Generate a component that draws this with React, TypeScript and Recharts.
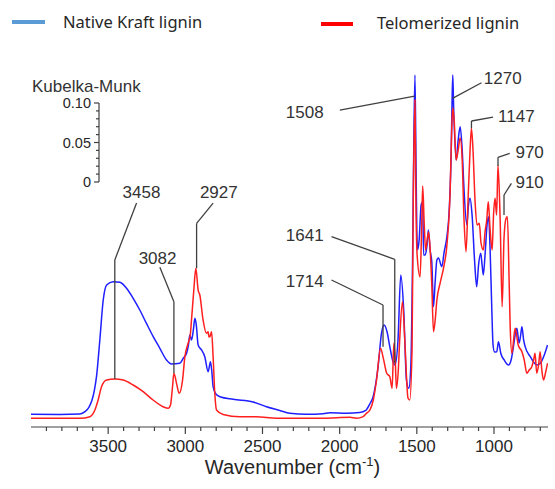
import React from 'react';
import { LineChart, Line, XAxis, YAxis, ReferenceLine, ReferenceDot, Legend } from 'recharts';

// ---------- data (Kubelka-Munk units vs wavenumber, cm-1) ----------
const seriesNames = ['Native Kraft lignin', 'Telomerized lignin'];

const nativeWavenumbers = [
  4000, 3813, 3683, 3650, 3625, 3605, 3590, 3575, 3554, 3532, 3510, 3468, 3424, 3381, 3338, 3295, 3251, 3208, 3165, 3122, 3089,
  3036, 3014, 2992, 2980, 2971, 2960, 2948, 2938, 2929, 2917, 2895, 2874, 2852, 2837, 2828, 2820, 2802, 2776, 2690, 2561,
  2474, 2388, 2323, 2215, 2107, 2064, 1956, 1870, 1831, 1805, 1783, 1751, 1729, 1712, 1693, 1675, 1654, 1641, 1622, 1604,
  1585, 1567, 1552, 1539, 1528, 1520, 1512, 1505, 1500, 1495, 1485, 1472, 1462, 1456, 1446, 1435, 1425, 1414, 1403, 1392,
  1381, 1370, 1360, 1338, 1323, 1305, 1290, 1277, 1272, 1267, 1262, 1245, 1232, 1219, 1206, 1194, 1176, 1165, 1155, 1142,
  1126, 1112, 1100, 1086, 1077, 1069, 1058, 1045, 1035, 1025, 1014, 1006, 996, 982, 971, 956, 934, 906, 889, 874,
  863, 852, 837, 827, 819, 808, 798, 765, 722, 700, 674, 653,
];
const nativeKM = [
  0.0161, 0.0159, 0.0165, 0.0195, 0.025, 0.034, 0.046, 0.0650, 0.1106, 0.1614, 0.1805, 0.1847, 0.1839, 0.1763, 0.1636, 0.1487, 0.1313, 0.1148, 0.1, 0.0852, 0.0801,
  0.081, 0.0873, 0.0937, 0.1042, 0.1169, 0.1106, 0.1233, 0.1382, 0.1297, 0.1042, 0.0979, 0.0894, 0.0703, 0.083, 0.0699, 0.0512, 0.0419, 0.0385, 0.0352, 0.0318,
  0.0258, 0.021, 0.0174, 0.0161, 0.0169, 0.0182, 0.0174, 0.0184, 0.021, 0.0292, 0.0385, 0.0766, 0.1191, 0.1297, 0.1211, 0.1021, 0.083, 0.0788, 0.1106, 0.1932,
  0.1487, 0.0597, 0.0492, 0.0766, 0.2038, 0.3521, 0.4474, 0.33, 0.25, 0.2251, 0.2377, 0.2822, 0.286, 0.2186, 0.2186, 0.2292, 0.2504, 0.225, 0.2097, 0.1529,
  0.185, 0.2123, 0.2148, 0.2038, 0.2224, 0.2419, 0.2758, 0.3521, 0.41, 0.4474, 0.41, 0.3394, 0.3648, 0.3817, 0.3521, 0.3013, 0.2568, 0.2822, 0.2907, 0.2695,
  0.2123, 0.1783, 0.2059, 0.2208, 0.2059, 0.1932, 0.2186, 0.2568, 0.2673, 0.225, 0.1487, 0.1042, 0.0953, 0.0957, 0.1084, 0.0937, 0.0852, 0.0788, 0.0852, 0.1021,
  0.1169, 0.1255, 0.1068, 0.1169, 0.1275, 0.1106, 0.1021, 0.0894, 0.0788, 0.081, 0.0915, 0.1042,
];

const telomerizedWavenumbers = [
  4000, 3683, 3618, 3586, 3565, 3543, 3510, 3457, 3403, 3338, 3273, 3209, 3144, 3111, 3096, 3083, 3074, 3057, 3040, 3018,
  3003, 2982, 2968, 2960, 2945, 2932, 2917, 2906, 2885, 2863, 2852, 2847, 2841, 2830, 2820, 2809, 2798, 2755, 2647, 2539,
  2409, 2107, 1934, 1891, 1848, 1826, 1804, 1782, 1761, 1735, 1717, 1695, 1675, 1660, 1649, 1640, 1632, 1620, 1611, 1593,
  1578, 1557, 1546, 1531, 1523, 1512, 1506, 1498, 1479, 1469, 1462, 1453, 1443, 1433, 1424, 1414, 1403, 1392, 1381, 1370,
  1349, 1327, 1305, 1284, 1274, 1267, 1258, 1245, 1232, 1219, 1206, 1194, 1181, 1168, 1155, 1146, 1136, 1123, 1110, 1095,
  1084, 1069, 1058, 1047, 1037, 1025, 1012, 1003, 993, 983, 974, 960, 947, 935, 922, 913, 902, 895, 884, 863,
  843, 819, 804, 787, 772, 755, 743, 734, 723, 711, 701, 690, 679, 665, 653,
];
const telomerizedKM = [
  0.0111, 0.0111, 0.0131, 0.0216, 0.0343, 0.0512, 0.0597, 0.061, 0.0597, 0.0534, 0.0449, 0.0343, 0.0258, 0.0238, 0.028, 0.0512, 0.0683, 0.0555, 0.0428, 0.0597,
  0.0894, 0.1064, 0.1169, 0.136, 0.1741, 0.2017, 0.1741, 0.1678, 0.136, 0.1191, 0.1211, 0.1144, 0.1148, 0.1211, 0.0894, 0.0428, 0.0216, 0.0159, 0.0131, 0.0131,
  0.0111, 0.0111, 0.0123, 0.0111, 0.0131, 0.0174, 0.0216, 0.0343, 0.0597, 0.1, 0.0873, 0.0683, 0.0639, 0.0492, 0.1064, 0.0852, 0.0492, 0.0724, 0.1106, 0.1593,
  0.1106, 0.0365, 0.0343, 0.0979, 0.2885, 0.4157, 0.2885, 0.2186, 0.1907, 0.2504, 0.3063, 0.2631, 0.225, 0.2377, 0.2479, 0.2275, 0.1805, 0.1211, 0.136, 0.1614,
  0.183, 0.2021, 0.2313, 0.3013, 0.3775, 0.4055, 0.3902, 0.3394, 0.3521, 0.3673, 0.3394, 0.2631, 0.2228, 0.2885, 0.3521, 0.3797, 0.3521, 0.2885, 0.2568, 0.2589,
  0.2339, 0.225, 0.2479, 0.2631, 0.2864, 0.2504, 0.225, 0.2695, 0.2907, 0.2695, 0.333, 0.2631, 0.1529, 0.24, 0.265, 0.2673, 0.1869, 0.1275, 0.0937, 0.1255,
  0.1042, 0.0957, 0.0852, 0.0683, 0.0724, 0.0767, 0.0852, 0.0937, 0.0683, 0.0788, 0.0957, 0.0724, 0.0597, 0.0699, 0.081,
];

const xTicks = [3900, 3800, 3700, 3600, 3500, 3400, 3300, 3200, 3100, 3000, 2900, 2800, 2700, 2600, 2500, 2400, 2300, 2200, 2100, 2000, 1900, 1800, 1700, 1600, 1500, 1400, 1300, 1200, 1100, 1000, 900, 800, 700];
const scaleTicks = [0, 0.01, 0.02, 0.03, 0.04, 0.05, 0.06, 0.07, 0.08, 0.09, 0.1];
const scaleTickLabels = ['0', '', '', '', '', '0.05', '', '', '', '', '0.10'];
const peakLabels = ['3458', '3082', '2927', '1714', '1641', '1508', '1270', '1147', '970', '910'];

// annotation layout (label anchor + leader path, in chart data coordinates)
const annotationLayout = [
  { at: [3284, 0.2991], path: [[3316, 0.2847], [3457, 0.2123], [3457, 0.061]] },
  { at: [3180, 0.2152], path: [[3165, 0.203], [3074, 0.1593], [3074, 0.0683]] },
  { at: [2783, 0.2991], path: [[2820, 0.2847], [2927, 0.2589], [2927, 0.2017]] },
  { at: [2226, 0.1856], path: [[2053, 0.1869], [1719, 0.1551], [1719, 0.1021]] },
  { at: [2226, 0.2441], path: [[2053, 0.2419], [1643, 0.2132], [1643, 0.081]] },
  { at: [2226, 0.4008], path: [[1999, 0.4029], [1514, 0.4207]] },
  { at: [943, 0.4436], path: [[1081, 0.4376], [1269, 0.4178]] },
  { at: [855, 0.3953], path: [[1006, 0.394], [1146, 0.389], [1146, 0.3797]] },
  { at: [769, 0.3499], path: [[898, 0.3479], [974, 0.3428], [974, 0.3318]] },
  { at: [769, 0.3118], path: [[887, 0.3098], [935, 0.2949], [935, 0.2695]] },
];

const nativeData = nativeWavenumbers.map((w, i) => ({ w, km: nativeKM[i] }));
const telomerizedData = telomerizedWavenumbers.map((w, i) => ({ w, km: telomerizedKM[i] }));

const INK = '#404040';
const FONT = '"Liberation Sans", Arial, sans-serif';

const XTick = (props: any) => {
  const { x, y, payload } = props;
  const v = payload.value;
  const major = v % 500 === 0;
  return (
    <g>
      <line x1={x} y1={y} x2={x} y2={y + (major ? 7 : 4)} stroke={INK} strokeWidth={1.2} />
      {major && (
        <text x={x} y={y + 19} dy="0.35em" textAnchor="middle" fill="#262626" fontSize={17} fontFamily={FONT}>
          {v}
        </text>
      )}
    </g>
  );
};

const ScaleTick = (props: any) => {
  const { x, y, payload } = props;
  const idx = Math.round(payload.value * 100);
  const label = scaleTickLabels[idx];
  const major = label !== '';
  return (
    <g>
      <line x1={x - (major ? 5 : 3)} y1={y} x2={x} y2={y} stroke={INK} strokeWidth={1.2} />
      {major && (
        <text x={x - 8} y={y} dy="0.35em" textAnchor="end" fill="#262626" fontSize={14.5} fontFamily={FONT}>
          {label}
        </text>
      )}
    </g>
  );
};

const XTitle = (props: any) => {
  const vb = props.viewBox || { x: 31, y: 427, width: 517, height: 62 };
  const cx = vb.x + vb.width / 2 + 3;
  const by = vb.y + 47;
  return (
    <text x={cx} y={by} textAnchor="middle" fill="#262626" fontSize={20} fontFamily={FONT}>
      Wavenumber (cm<tspan dy={-8} fontSize={13}>-1</tspan>
      <tspan dy={8}>)</tspan>
    </text>
  );
};

const legendColors = ['#5b9bd5', '#ff0000'];
const LegendContent = () => (
  <div style={{ position: 'relative', width: 555, height: 45, fontFamily: '"Noto Sans", sans-serif', fontSize: 16.5, color: '#262626' }}>
    <div style={{ position: 'absolute', left: 12, top: 20, width: 33, height: 4, background: legendColors[0] }} />
    <div style={{ position: 'absolute', left: 63, top: 11, lineHeight: '22px', whiteSpace: 'nowrap' }}>{seriesNames[0]}</div>
    <div style={{ position: 'absolute', left: 321, top: 22, width: 32, height: 4, background: legendColors[1] }} />
    <div style={{ position: 'absolute', left: 377, top: 12, lineHeight: '22px', whiteSpace: 'nowrap' }}>{seriesNames[1]}</div>
  </div>
);

export default function App() {
  return (
    <div style={{ position: 'absolute', left: 0, top: 0, width: 555, height: 489, background: '#fff', fontFamily: FONT }}>
      <LineChart width={555} height={489} margin={{ top: 73, right: 7, bottom: 0, left: 31 }}>
        <XAxis
          dataKey="w"
          type="number"
          domain={[650, 4000]}
          reversed
          allowDataOverflow
          ticks={xTicks}
          interval={0}
          height={62}
          tickLine={false}
          tickSize={0}
          tickMargin={0}
          tick={<XTick />}
          axisLine={{ stroke: INK, strokeWidth: 1.2 }}
          label={<XTitle />}
        />
        <YAxis hide type="number" domain={[0, 0.45]} allowDataOverflow />
        <Legend
          layout="horizontal"
          verticalAlign="middle"
          align="center"
          wrapperStyle={{ top: 0, left: 0, width: 555, height: 45 }}
          content={<LegendContent />}
        />
        <Line type="monotone" data={nativeData} dataKey="km" name={seriesNames[0]} stroke="#1f1fff" strokeWidth={1.5} dot={false} activeDot={false} isAnimationActive={false} />
        <Line type="monotone" data={telomerizedData} dataKey="km" name={seriesNames[1]} stroke="#ff1f1f" strokeWidth={1.5} dot={false} activeDot={false} isAnimationActive={false} />
        {annotationLayout.map((a, i) =>
          a.path.slice(1).map((p, j) => (
            <ReferenceLine
              key={`seg-${i}-${j}`}
              segment={[{ x: a.path[j][0], y: a.path[j][1] }, { x: p[0], y: p[1] }]}
              stroke={INK}
              strokeWidth={1.3}
              ifOverflow="visible"
            />
          ))
        )}
        {annotationLayout.map((a, i) => (
          <ReferenceDot
            key={`lbl-${i}`}
            x={a.at[0]}
            y={a.at[1]}
            r={0}
            fill="none"
            stroke="none"
            ifOverflow="visible"
            label={{ value: peakLabels[i], position: 'center', fill: '#333333', fontSize: 17, fontFamily: FONT }}
          />
        ))}
      </LineChart>
      <div style={{ position: 'absolute', left: 32, top: 77, fontSize: 17, lineHeight: '20px', color: '#333333', whiteSpace: 'nowrap' }}>
        Kubelka-Munk
      </div>
      <div style={{ position: 'absolute', left: 0, top: 90 }}>
        <LineChart width={115} height={110} margin={{ top: 13, right: 5, bottom: 18, left: 0 }} data={[{ x: 0, y: 0 }, { x: 1, y: 0.1 }]}>
          <XAxis hide dataKey="x" type="number" domain={[0, 1]} />
          <YAxis
            type="number"
            domain={[0, 0.1]}
            ticks={scaleTicks}
            interval={0}
            width={99}
            tickLine={false}
            tickSize={0}
            tickMargin={0}
            tick={<ScaleTick />}
            axisLine={{ stroke: INK, strokeWidth: 1.2 }}
          />
          <Line dataKey="y" stroke="none" dot={false} activeDot={false} isAnimationActive={false} />
        </LineChart>
      </div>
    </div>
  );
}
